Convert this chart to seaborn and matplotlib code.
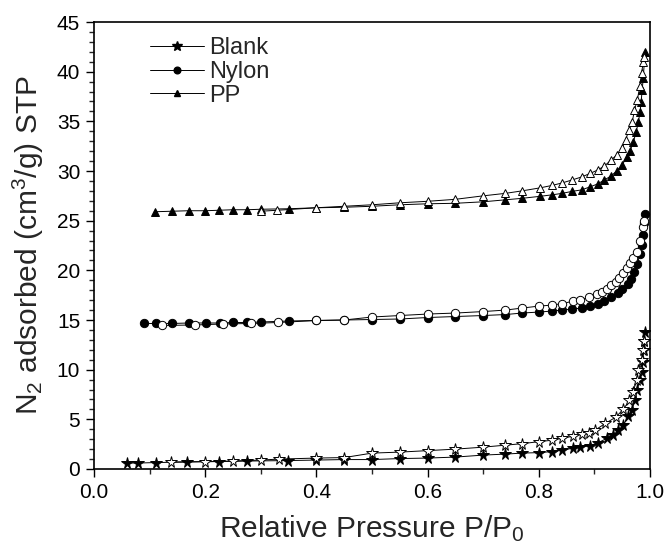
import matplotlib
matplotlib.use("Agg")
import matplotlib.pyplot as plt
import seaborn as sns
from matplotlib.lines import Line2D
from matplotlib.ticker import MultipleLocator

# ---------------- data ----------------
blank_ads_x = [0.059, 0.079, 0.112, 0.167, 0.225, 0.275, 0.349, 0.40, 0.45, 0.50, 0.55, 0.60, 0.65,
               0.70, 0.74, 0.77, 0.80, 0.824, 0.842, 0.862, 0.874, 0.892, 0.907, 0.923, 0.934, 0.943,
               0.952, 0.961, 0.967, 0.973, 0.977, 0.982, 0.985, 0.987, 0.989, 0.990, 0.991]
blank_ads_y = [0.6, 0.6, 0.65, 0.7, 0.75, 0.8, 0.85, 0.9, 0.95, 0.95, 1.05, 1.1, 1.2,
               1.4, 1.5, 1.6, 1.65, 1.75, 1.9, 2.1, 2.2, 2.35, 2.65, 3.1, 3.4, 3.9,
               4.4, 5.3, 5.9, 6.9, 8.0, 9.0, 9.8, 10.8, 12.0, 12.9, 13.8]
blank_des_x = [0.138, 0.20, 0.25, 0.30, 0.333, 0.40, 0.45, 0.50, 0.55, 0.60, 0.65, 0.70, 0.74,
               0.77, 0.80, 0.824, 0.842, 0.862, 0.877, 0.89, 0.901, 0.92, 0.938, 0.952, 0.963,
               0.97, 0.976, 0.979, 0.985, 0.988, 0.990]
blank_des_y = [0.7, 0.75, 0.8, 0.9, 1.0, 1.1, 1.15, 1.6, 1.7, 1.85, 2.0, 2.2, 2.4,
               2.55, 2.75, 2.9, 3.1, 3.3, 3.5, 3.6, 3.9, 4.6, 5.2, 6.0, 6.9,
               7.8, 9.0, 10.0, 11.0, 12.0, 12.9]

nylon_ads_x = [0.09, 0.112, 0.14, 0.171, 0.201, 0.227, 0.25, 0.275, 0.30, 0.35, 0.40, 0.45, 0.50,
               0.55, 0.60, 0.65, 0.70, 0.74, 0.77, 0.80, 0.824, 0.842, 0.86, 0.877, 0.892, 0.906,
               0.918, 0.93, 0.942, 0.95, 0.96, 0.966, 0.972, 0.977, 0.982, 0.985, 0.987, 0.99, 0.991]
nylon_ads_y = [14.65, 14.65, 14.65, 14.7, 14.7, 14.7, 14.75, 14.75, 14.8, 14.9, 14.95, 15.0, 15.05,
               15.1, 15.25, 15.35, 15.45, 15.55, 15.7, 15.8, 15.9, 16.0, 16.1, 16.2, 16.4, 16.6,
               16.95, 17.3, 17.7, 18.1, 18.6, 19.1, 19.8, 20.6, 21.6, 22.6, 23.6, 24.8, 25.7]
nylon_des_x = [0.122, 0.182, 0.232, 0.282, 0.331, 0.40, 0.45, 0.50, 0.55, 0.60, 0.65, 0.70, 0.74,
               0.77, 0.80, 0.824, 0.842, 0.862, 0.874, 0.89, 0.904, 0.913, 0.922, 0.93, 0.938,
               0.945, 0.952, 0.958, 0.964, 0.97, 0.977, 0.982, 0.987, 0.99]
nylon_des_y = [14.45, 14.5, 14.6, 14.65, 14.75, 14.95, 15.0, 15.3, 15.45, 15.6, 15.7, 15.85, 16.0,
               16.2, 16.4, 16.5, 16.65, 16.9, 17.0, 17.3, 17.6, 17.8, 18.1, 18.5, 18.8,
               19.2, 19.7, 20.2, 20.7, 21.2, 21.8, 23.0, 24.4, 25.0]

pp_ads_x = [0.11, 0.14, 0.17, 0.20, 0.225, 0.25, 0.275, 0.30, 0.35, 0.40, 0.45, 0.50, 0.55,
            0.60, 0.65, 0.70, 0.74, 0.77, 0.802, 0.824, 0.842, 0.86, 0.877, 0.892, 0.906, 0.918,
            0.93, 0.94, 0.95, 0.958, 0.964, 0.97, 0.975, 0.979, 0.982, 0.984, 0.986, 0.988, 0.991]
pp_ads_y = [25.9, 25.95, 26.0, 26.0, 26.05, 26.1, 26.1, 26.15, 26.2, 26.3, 26.35, 26.45, 26.6,
            26.7, 26.75, 26.9, 27.1, 27.25, 27.45, 27.6, 27.75, 27.95, 28.1, 28.4, 28.7, 29.1,
            29.5, 30.0, 30.6, 31.4, 32.0, 32.9, 33.9, 34.9, 35.9, 36.9, 38.2, 39.4, 42.0]
pp_des_x = [0.30, 0.33, 0.40, 0.45, 0.50, 0.55, 0.60, 0.65, 0.70, 0.74, 0.77, 0.802, 0.824,
            0.842, 0.86, 0.877, 0.892, 0.906, 0.918, 0.93, 0.94, 0.95, 0.956, 0.962, 0.968,
            0.972, 0.977, 0.982, 0.985, 0.988, 0.99]
pp_des_y = [25.95, 26.05, 26.3, 26.45, 26.6, 26.8, 26.95, 27.15, 27.5, 27.75, 28.0, 28.3, 28.55,
            28.8, 29.1, 29.4, 29.75, 30.1, 30.5, 31.1, 31.6, 32.3, 33.1, 34.1, 34.9,
            36.1, 37.1, 38.6, 39.9, 41.0, 41.5]

labels = ["Blank", "Nylon", "PP"]
x_ticks = [0.0, 0.2, 0.4, 0.6, 0.8, 1.0]
y_ticks = [0, 5, 10, 15, 20, 25, 30, 35, 40, 45]

# ---------------- style ----------------
sns.set_theme(style="ticks")
plt.rcParams["font.family"] = ["Liberation Sans", "DejaVu Sans"]
plt.rcParams["mathtext.fontset"] = "custom"
plt.rcParams["mathtext.rm"] = "Liberation Sans"
plt.rcParams["mathtext.it"] = "Liberation Sans:italic"

fig = plt.figure(figsize=(6.65, 5.53), dpi=100)
ax = fig.add_axes([0.1414, 0.1519, 0.836, 0.8083])

series = [
    (blank_ads_x, blank_ads_y, "*", "black", 8.5),
    (blank_des_x, blank_des_y, "*", "white", 8.5),
    (nylon_ads_x, nylon_ads_y, "o", "black", 6),
    (nylon_des_x, nylon_des_y, "o", "white", 6),
    (pp_ads_x, pp_ads_y, "^", "black", 6),
    (pp_des_x, pp_des_y, "^", "white", 6),
]
for xs, ys, m, fc, ms in series:
    sns.lineplot(x=xs, y=ys, ax=ax, sort=False, estimator=None, color="black",
                 linewidth=0.7, marker=m, markersize=ms, markerfacecolor=fc,
                 markeredgecolor="black", markeredgewidth=0.7)

ax.set_xlim(0.0, 1.0)
ax.set_ylim(0, 45)
ax.set_xticks(x_ticks)
ax.set_xticklabels([f"{v:.1f}" for v in x_ticks])
ax.set_yticks(y_ticks)
ax.set_yticklabels([str(v) for v in y_ticks])
ax.xaxis.set_minor_locator(MultipleLocator(0.1))
ax.yaxis.set_minor_locator(MultipleLocator(1))
ax.tick_params(which="major", direction="out", length=6, width=1, labelsize=15,
               colors="black", top=False, right=False, pad=4)
ax.tick_params(which="minor", direction="out", length=3.5, width=1, top=False, right=False)
for sp in ax.spines.values():
    sp.set_visible(True)
    sp.set_color("black")
    sp.set_linewidth(1.2)

ax.set_xlabel("Relative Pressure P/P$_0$", fontsize=21.5, labelpad=8)
ax.set_ylabel("N$_2$ adsorbed (cm$^3$/g) STP", fontsize=21.5, labelpad=8)

handles = [
    Line2D([], [], color="black", linewidth=0.7, marker="*", markersize=7,
           markerfacecolor="black", markeredgecolor="black"),
    Line2D([], [], color="black", linewidth=0.7, marker="o", markersize=4.8,
           markerfacecolor="black", markeredgecolor="black"),
    Line2D([], [], color="black", linewidth=0.7, marker="^", markersize=4.8,
           markerfacecolor="black", markeredgecolor="black"),
]
ax.legend(handles, labels, loc="upper left", bbox_to_anchor=(0.1, 0.966),
          frameon=False, fontsize=17, handlelength=2.3, handletextpad=0.2,
          labelspacing=0.07, borderpad=0, borderaxespad=0, numpoints=1)

fig.savefig("out.png", dpi=100)
